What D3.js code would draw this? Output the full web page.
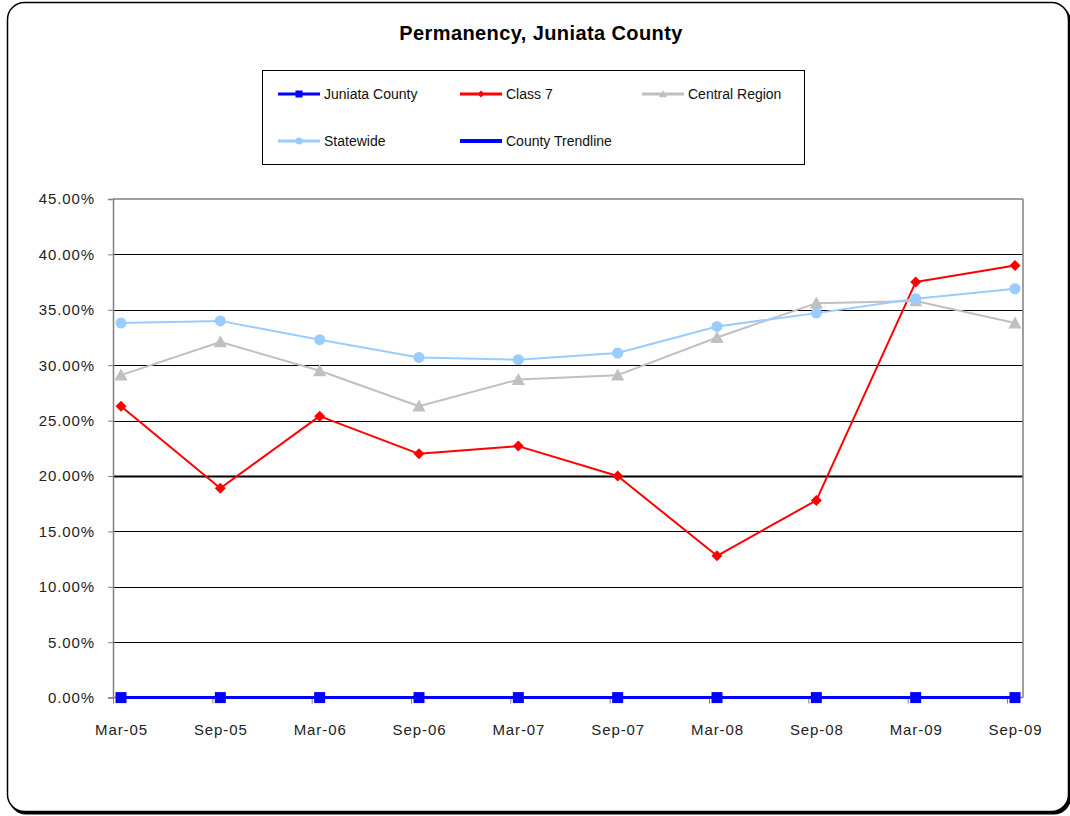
<!DOCTYPE html>
<html>
<head>
<meta charset="utf-8">
<script src="https://cdn.jsdelivr.net/npm/d3@7"></script>
<style>
  html, body { margin: 0; padding: 0; background: #fff; }
  svg { display: block; font-family: "Liberation Sans", Arial, sans-serif; }
</style>
</head>
<body>
<svg id="chart" width="1070" height="816"></svg>
<script>
const categories = ["Mar-05","Sep-05","Mar-06","Sep-06","Mar-07","Sep-07","Mar-08","Sep-08","Mar-09","Sep-09"];
const juniataCounty = [0,0,0,0,0,0,0,0,0,0];
const class7 = [26.3,18.9,25.4,22.0,22.7,20.0,12.8,17.8,37.5,39.0];
const centralRegion = [29.1,32.1,29.5,26.3,28.7,29.1,32.5,35.6,35.8,33.8];
const statewide = [33.8,34.0,32.3,30.7,30.5,31.1,33.5,34.7,36.0,36.9];
const countyTrendline = [0,0];
const yTicks = [0,5,10,15,20,25,30,35,40,45];
const title = "Permanency, Juniata County";

const svg = d3.select("#chart");

// outer frame with shadow
svg.append("rect").attr("x", 9).attr("y", 4.5).attr("width", 1062).attr("height", 810)
  .attr("rx", 17).attr("fill", "#000");
svg.append("rect").attr("x", 7.5).attr("y", 2.5).attr("width", 1061).attr("height", 809)
  .attr("rx", 17).attr("fill", "#fff").attr("stroke", "#000").attr("stroke-width", 1.5);

// title
svg.append("text").attr("x", 541).attr("y", 40).attr("text-anchor", "middle")
  .attr("font-size", 20).attr("font-weight", "bold").attr("letter-spacing", 0.4)
  .attr("fill", "#000").text(title);

// scales
const plotL = 113, plotR = 1023, plotT = 199, plotB = 697.6;
const x = d3.scalePoint().domain(categories).range([121, 1015]);
const y = d3.scaleLinear().domain([0, 45]).range([plotB, plotT]);
const tickOff = 8;

// gridlines
const g = svg.append("g");
g.selectAll("line.grid").data(yTicks.filter(t => t > 0 && t < 45)).enter().append("line")
  .attr("x1", plotL).attr("x2", plotR)
  .attr("y1", d => Math.round(y(d)) + 0.5).attr("y2", d => Math.round(y(d)) + 0.5)
  .attr("stroke", "#000").attr("stroke-width", d => d === 20 ? 2 : 1);

// plot border top and right
g.append("line").attr("x1", plotL).attr("x2", plotR).attr("y1", plotT).attr("y2", plotT)
  .attr("stroke", "#808080").attr("stroke-width", 1.5);
g.append("line").attr("x1", plotR).attr("x2", plotR).attr("y1", plotT).attr("y2", plotB)
  .attr("stroke", "#808080").attr("stroke-width", 1.5);

// y axis
const yAxis = d3.axisLeft(y).tickValues(yTicks).tickSize(5).tickPadding(13)
  .tickFormat(d => d.toFixed(2) + "%");
const ya = svg.append("g").attr("transform", `translate(${plotL},0)`).call(yAxis);
ya.select(".domain").attr("stroke", "#808080").attr("stroke-width", 1.5);
ya.selectAll(".tick line").attr("stroke", "#808080");
ya.selectAll(".tick text").attr("font-size", 15).attr("letter-spacing", 0.9)
  .attr("fill", "#222").attr("font-family", "Liberation Sans, Arial, sans-serif");

// x axis
const xAxis = d3.axisBottom(x).tickSize(0).tickPadding(0);
const xa = svg.append("g").attr("transform", `translate(0,${plotB})`).call(xAxis);
xa.select(".domain").remove();
xa.selectAll(".tick text").attr("font-size", 15).attr("letter-spacing", 0.9)
  .attr("fill", "#222").attr("dy", 0).attr("y", 37)
  .attr("font-family", "Liberation Sans, Arial, sans-serif");
xa.selectAll(".tick").append("line")
  .attr("x1", -tickOff).attr("x2", -tickOff).attr("y1", 0).attr("y2", 6)
  .attr("stroke", "#808080");
svg.append("line").attr("x1", plotL).attr("x2", plotR).attr("y1", plotB).attr("y2", plotB)
  .attr("stroke", "#808080").attr("stroke-width", 1.5);

// series
const line = d3.line().x((d, i) => x(categories[i])).y(d => y(d));

function markerPath(type, s) {
  if (type === "square") return d3.symbol(d3.symbolSquare, s * s)();
  if (type === "diamond") return `M0,${-s/2}L${s/2},0L0,${s/2}L${-s/2},0Z`;
  if (type === "triangle") return `M0,${-s*0.55}L${s*0.55},${s*0.45}L${-s*0.55},${s*0.45}Z`;
  if (type === "circle") return d3.symbol(d3.symbolCircle, Math.PI * (s/2) * (s/2))();
}

const seriesList = [
  { name: "Juniata County", data: juniataCounty, color: "#0000FF", marker: "square", size: 11, width: 3 },
  { name: "Class 7", data: class7, color: "#FF0000", marker: "diamond", size: 11, width: 2 },
  { name: "Central Region", data: centralRegion, color: "#C0C0C0", marker: "triangle", size: 12, width: 2 },
  { name: "Statewide", data: statewide, color: "#99CCFF", marker: "circle", size: 11, width: 2 },
];

seriesList.forEach(s => {
  const sg = svg.append("g");
  sg.append("path").datum(s.data).attr("d", line).attr("fill", "none")
    .attr("stroke", s.color).attr("stroke-width", s.width).attr("stroke-linejoin", "round");
  sg.selectAll("path.m").data(s.data).enter().append("path").attr("class", "m")
    .attr("transform", (d, i) => `translate(${x(categories[i])},${y(d)})`)
    .attr("d", markerPath(s.marker, s.size)).attr("fill", s.color);
});

// trendline
svg.append("line")
  .attr("x1", x(categories[0])).attr("x2", x(categories[categories.length - 1]))
  .attr("y1", y(countyTrendline[0])).attr("y2", y(countyTrendline[1]))
  .attr("stroke", "#0000FF").attr("stroke-width", 3);

// legend
const lg = svg.append("g");
lg.append("rect").attr("x", 262.5).attr("y", 70.5).attr("width", 542).attr("height", 94)
  .attr("fill", "#fff").attr("stroke", "#000").attr("stroke-width", 1);
const legendItems = [
  { s: seriesList[0], lx: 278, ly: 94 },
  { s: seriesList[1], lx: 460, ly: 94 },
  { s: seriesList[2], lx: 642, ly: 94 },
  { s: seriesList[3], lx: 278, ly: 141 },
  { s: { name: "County Trendline", color: "#0000FF", marker: null, width: 4 }, lx: 460, ly: 141 },
];
legendItems.forEach(it => {
  const s = it.s;
  lg.append("line").attr("x1", it.lx).attr("x2", it.lx + 42).attr("y1", it.ly).attr("y2", it.ly)
    .attr("stroke", s.color).attr("stroke-width", s.marker ? 3 : 4);
  if (s.marker) {
    lg.append("path").attr("transform", `translate(${it.lx + 21},${it.ly})`)
      .attr("d", markerPath(s.marker, 7)).attr("fill", s.color);
  }
  lg.append("text").attr("x", it.lx + 46).attr("y", it.ly + 5)
    .attr("font-size", 14).attr("fill", "#111").text(s.name);
});
</script>
</body>
</html>
